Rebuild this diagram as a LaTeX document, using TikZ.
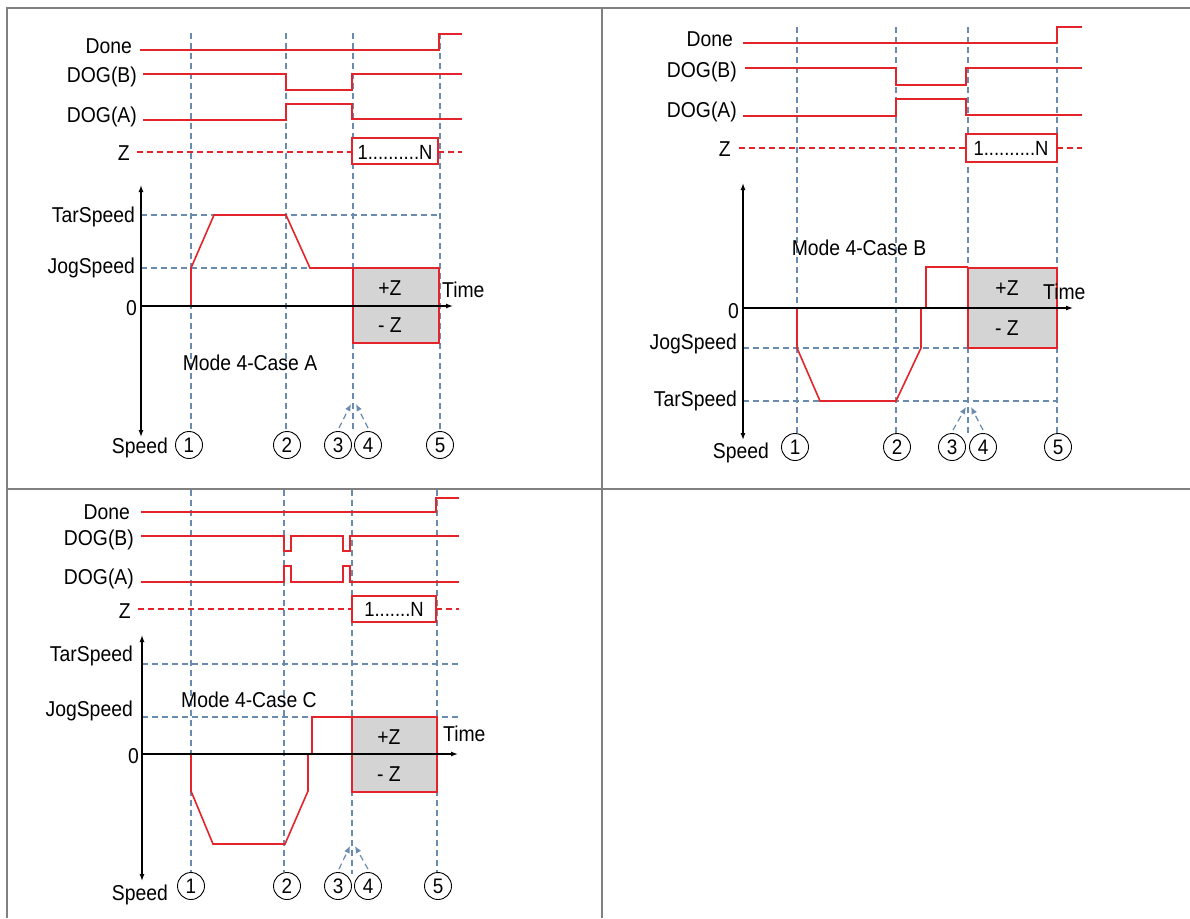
\documentclass[tikz,border=0pt]{standalone}
\usepackage{fontspec}
\setmainfont{Liberation Sans}[FakeStretch=0.9]
\usetikzlibrary{arrows.meta}
\definecolor{sigred}{HTML}{E3242B}
\definecolor{gridblue}{HTML}{6A8BB0}
\definecolor{tablegray}{HTML}{808080}
\definecolor{boxgray}{HTML}{D4D4D4}
\tikzset{
 sig/.style={draw=sigred, line width=1.6pt},
 zline/.style={draw=sigred, line width=1.3pt, dash pattern=on 6pt off 4pt},
 guide/.style={draw=gridblue, line width=1.2pt, dash pattern=on 6pt off 4pt},
 axis/.style={draw=black, line width=1.3pt},
 lbl/.style={font=\fontsize{21.5}{24}\selectfont, inner sep=0pt},
 ztxt/.style={font=\fontsize{20.5}{22}\selectfont, inner sep=0pt},
 num/.style={circle, draw=black, line width=0.9pt, minimum size=27pt, inner sep=0pt, font=\fontsize{21}{22}\selectfont, fill=white},
 zbox/.style={draw=sigred, line width=1.3pt, fill=white},
 gbox/.style={draw=sigred, line width=1.6pt, fill=boxgray},
 tip/.style={-{Latex[length=7pt,width=6pt]}},
 tblline/.style={draw=tablegray, line width=2pt},
}
\begin{document}
\begin{tikzpicture}[x=1pt,y=-1pt]
\useasboundingbox (0,0) rectangle (1190,918);
% ---------------- table grid
\draw[tblline] (1190,8) -- (7,8) -- (7,918);
\draw[tblline] (602,8) -- (602,918);
\draw[tblline] (7,489) -- (1190,489);

% ================= Panel A
\draw[guide] (191,33) -- (191,431);
\draw[guide] (286,33) -- (286,431);
\draw[guide] (353,33) -- (353,433);
\draw[guide] (440,33) -- (440,431);
\draw[guide] (141,215) -- (437,215);
\draw[guide] (141,268) -- (353,268);
\node[lbl, anchor=east] (aDone) at (132,46) {Done};
\node[lbl, anchor=east] (aDogB) at (137,77) {DOG(B)};
\node[lbl, anchor=east] (aDogA) at (137,117) {DOG(A)};
\node[lbl, anchor=east] (aZ) at (130,153) {Z};
\draw[sig] (140,50) -- (439,50) -- (439,34) -- (462,34);
\draw[sig] (143,74) -- (286,74) -- (286,90) -- (352,90) -- (352,74) -- (462,74);
\draw[sig] (143,120) -- (286,120) -- (286,104) -- (352,104) -- (352,119) -- (462,119);
\draw[zline] (137,152) -- (352,152);
\draw[zline] (438,152) -- (462,152);
\draw[zbox] (352,138) rectangle (438,164);
\node[ztxt] (aZt) at (395,152) {1..........N};
\draw[gbox] (353,268) rectangle (439,343);
\draw[sig] (191,306) -- (191,268) -- (214,215) -- (286,215) -- (310,268) -- (353,268);
\draw[axis, {Latex[length=7pt,width=5pt]}-{Latex[length=7pt,width=5pt]}] (141,185) -- (141,437);
\draw[axis, -{Latex[length=7pt,width=5pt]}] (141,306) -- (453,306);
\node[lbl] (aPZ) at (390,288) {+Z};
\node[lbl] (aMZ) at (390,325) {- Z};
\node[lbl, anchor=west] (aTime) at (442,290) {Time};
\node[lbl, anchor=east] (aTar) at (135,217) {TarSpeed};
\node[lbl, anchor=east] (aJog) at (135,268) {JogSpeed};
\node[lbl, anchor=east] (a0) at (137,308) {0};
\node[lbl] (aMode) at (250,363) {Mode 4-Case A};
\node[lbl, anchor=east] (aSpeed) at (168,448) {Speed};
\node[num] (a1) at (189,445) {1};
\node[num] (a2) at (287,445) {2};
\node[num] (a3) at (338,445) {3};
\node[num] (a4) at (368,445) {4};
\node[num] (a5) at (440,445) {5};
\coordinate (aT3) at (351,404);
\coordinate (aT4) at (356,404);
\draw[guide, tip] ([shift={(1,-3)}]a3.north) -- (aT3);
\draw[guide, tip] ([shift={(0,-3)}]a4.north) -- (aT4);

% ================= Panel B
\draw[guide] (797,27) -- (797,433);
\draw[guide] (896,27) -- (896,433);
\draw[guide] (968,27) -- (968,435);
\draw[guide] (1057,27) -- (1057,433);
\draw[guide] (743,348) -- (968,348);
\draw[guide] (743,401) -- (1057,401);
\node[lbl, anchor=east] (bDone) at (733,39) {Done};
\node[lbl, anchor=east] (bDogB) at (737,72) {DOG(B)};
\node[lbl, anchor=east] (bDogA) at (737,112) {DOG(A)};
\node[lbl, anchor=east] (bZ) at (731,149) {Z};
\draw[sig] (743,43) -- (1057,43) -- (1057,27) -- (1082,27);
\draw[sig] (745,68) -- (896,68) -- (896,85) -- (966,85) -- (966,68) -- (1082,68);
\draw[sig] (743,116) -- (896,116) -- (896,99) -- (966,99) -- (966,115) -- (1082,115);
\draw[zline] (739,148) -- (966,148);
\draw[zline] (1057,148) -- (1082,148);
\draw[zbox] (966,134) rectangle (1057,162);
\node[ztxt] (bZt) at (1011,148) {1..........N};
\draw[gbox] (968,268) rectangle (1057,348);
\draw[sig] (797,308) -- (797,348) -- (820,401) -- (896,401) -- (921,348) -- (921,308) -- (926,308) -- (926,267) -- (968,267);
\draw[axis, {Latex[length=7pt,width=5pt]}-{Latex[length=7pt,width=5pt]}] (743,183) -- (743,440);
\draw[axis, -{Latex[length=7pt,width=5pt]}] (743,308) -- (1073,308);
\node[lbl] (bPZ) at (1007,288) {+Z};
\node[lbl] (bMZ) at (1007,328) {- Z};
\node[lbl, anchor=west] (bTime) at (1043,292) {Time};
\node[lbl, anchor=east] (b0) at (739,311) {0};
\node[lbl, anchor=east] (bJog) at (737,344) {JogSpeed};
\node[lbl, anchor=east] (bTar) at (737,401) {TarSpeed};
\node[lbl] (bMode) at (859,248) {Mode 4-Case B};
\node[lbl, anchor=east] (bSpeed) at (769,453) {Speed};
\node[num] (b1) at (795,447) {1};
\node[num] (b2) at (897,447) {2};
\node[num] (b3) at (952,447) {3};
\node[num] (b4) at (983,447) {4};
\node[num] (b5) at (1058,447) {5};
\coordinate (bT3) at (966,407);
\coordinate (bT4) at (971,407);
\draw[guide, tip] ([shift={(1,-3)}]b3.north) -- (bT3);
\draw[guide, tip] ([shift={(0,-3)}]b4.north) -- (bT4);

% ================= Panel C
\draw[guide] (191,490) -- (191,872);
\draw[guide] (284,490) -- (284,872);
\draw[guide] (352,490) -- (352,874);
\draw[guide] (437,490) -- (437,872);
\draw[guide] (142,664) -- (460,664);
\draw[guide] (142,717) -- (460,717);
\node[lbl, anchor=east] (cDone) at (130,512) {Done};
\node[lbl, anchor=east] (cDogB) at (134,540) {DOG(B)};
\node[lbl, anchor=east] (cDogA) at (134,579) {DOG(A)};
\node[lbl, anchor=east] (cZ) at (131,611) {Z};
\draw[sig] (141,512) -- (436,512) -- (436,498) -- (459,498);
\draw[sig] (141,536) -- (284,536) -- (284,551) -- (291,551) -- (291,536) -- (343,536) -- (343,551) -- (350,551) -- (350,536) -- (459,536);
\draw[sig] (141,582) -- (284,582) -- (284,566) -- (291,566) -- (291,582) -- (343,582) -- (343,566) -- (350,566) -- (350,582) -- (459,582);
\draw[zline] (138,609) -- (352,609);
\draw[zline] (436,609) -- (459,609);
\draw[zbox] (352,596) rectangle (436,622);
\node[ztxt] (cZt) at (394,609) {1.......N};
\draw[gbox] (352,717) rectangle (437,792);
\draw[sig] (191,754) -- (191,791) -- (213,844) -- (285,844) -- (308,791) -- (308,754) -- (312,754) -- (312,717) -- (352,717);
\draw[axis, {Latex[length=7pt,width=5pt]}-{Latex[length=7pt,width=5pt]}] (142,635) -- (142,881);
\draw[axis, -{Latex[length=7pt,width=5pt]}] (142,754) -- (458,754);
\node[lbl] (cPZ) at (389,737) {+Z};
\node[lbl] (cMZ) at (389,774) {- Z};
\node[lbl, anchor=west] (cTime) at (443,734) {Time};
\node[lbl, anchor=east] (cTar) at (133,656) {TarSpeed};
\node[lbl, anchor=east] (cJog) at (133,711) {JogSpeed};
\node[lbl, anchor=east] (c0) at (139,756) {0};
\node[lbl] (cMode) at (249,700) {Mode 4-Case C};
\node[lbl, anchor=east] (cSpeed) at (168,895) {Speed};
\node[num] (c1) at (191,886) {1};
\node[num] (c2) at (287,886) {2};
\node[num] (c3) at (338,886) {3};
\node[num] (c4) at (368,886) {4};
\node[num] (c5) at (438,886) {5};
\coordinate (cT3) at (350,846);
\coordinate (cT4) at (355,846);
\draw[guide, tip] ([shift={(1,-3)}]c3.north) -- (cT3);
\draw[guide, tip] ([shift={(0,-3)}]c4.north) -- (cT4);
\end{tikzpicture}
\end{document}
